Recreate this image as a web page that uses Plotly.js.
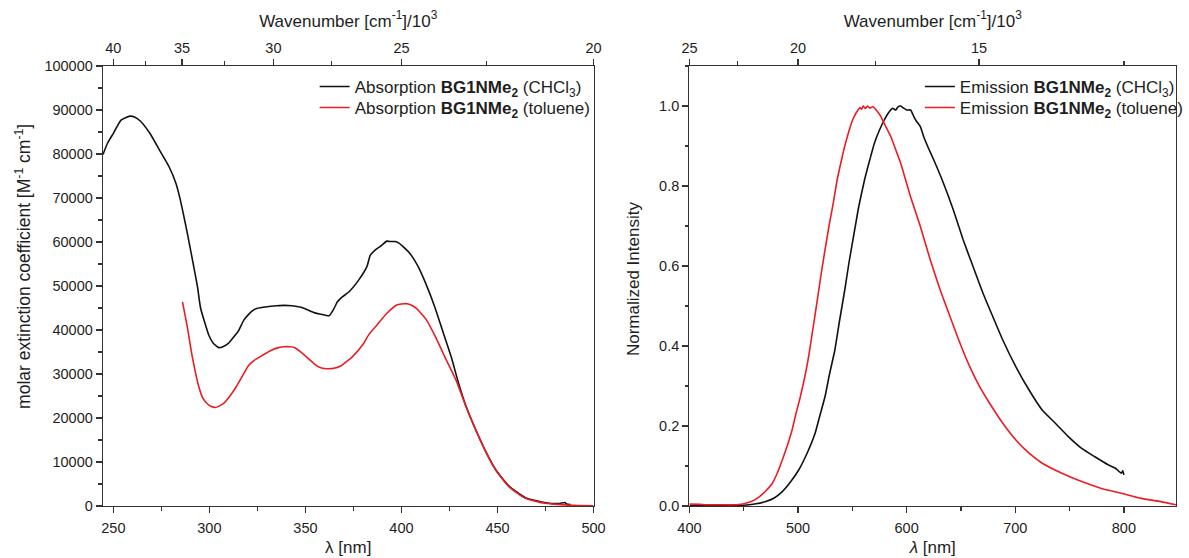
<!DOCTYPE html>
<html>
<head>
<meta charset="utf-8">
<script src="https://cdn.plot.ly/plotly-3.0.1.min.js"></script>
<style>
html,body{margin:0;padding:0;background:#fff;}
#chart{width:1189px;height:558px;}
</style>
</head>
<body>
<div id="chart"></div>
<script>
// ---- Absorption (left panel) ----
const absLambdaCHCl3 = [244.6,247,250,254,258.6,261,264,269,274,279,282.6,284.3,286,288.5,291.2,293.8,295.4,297.5,299.7,302,304.8,307,310,313,315,318,320.3,322.5,324.6,330,335,339,343,347.7,351,354.6,358,362.4,364.9,366.5,368.3,372.7,377.8,382,383.8,386.4,389,392.4,394,396.7,398.5,401,404.4,408.7,413,417.3,421.6,425.9,430,434,439,444,449,456,464.5,475,482,485,486,488];
const absCHCl3 = [79900,82500,84700,87700,88600,88400,87500,84700,80900,77100,73300,70600,67300,62000,55900,49800,45000,41800,38800,37000,36000,36200,37000,38600,39700,42300,43500,44400,44900,45300,45500,45600,45500,45150,44600,43950,43600,43250,44900,46300,47200,48700,51400,54400,57000,58200,59000,60200,60100,60100,59800,58900,57400,54400,50200,45300,39600,33900,27500,22200,17000,12300,8300,4500,1900,750,550,800,450,350];

const absLambdaToluene = [286,288.5,291.1,294.5,296.5,298.8,301,303.1,305,307.4,310,313.4,317,320.3,323,326.3,332.3,336,339.2,342,344.3,349.5,354.6,357,359.8,364.9,368.3,371,374.4,380.4,382.9,387.2,392.4,397.5,402.3,405,407.8,413,418.1,423.3,428.4,433.6,438.7,443.9,449,455.9,464.5,474.8,485,492,500];
const absToluene = [46400,40700,33900,27100,24600,23300,22600,22400,22700,23300,24600,26700,29400,31900,33000,33900,35400,36000,36200,36200,36000,34300,32300,31600,31250,31300,31800,32700,33900,37000,38900,41100,43800,45700,46000,45700,44900,42300,38100,33200,28600,22600,17300,12300,8200,4400,1750,610,250,130,70];

// ---- Emission (right panel) ----
const emLambdaCHCl3 = [400,430,450,460,470.3,478,485.5,493,500.6,508,515.7,520,524.8,529,533.9,538,543,547,552.1,556,561.2,566,570.3,575,579.4,583,587,590,592,594.5,597,600,603.6,606.7,609,612.7,615.7,620,625,633.9,643,652.1,661.2,670.3,679.4,688.5,700.6,712.7,724.8,736.9,749.1,761.2,773.3,785.5,792,797.6,799,800];
const emCHCl3 = [0.001,0.001,0.002,0.005,0.011,0.02,0.036,0.06,0.09,0.13,0.182,0.225,0.273,0.33,0.39,0.46,0.54,0.61,0.69,0.75,0.815,0.865,0.907,0.94,0.965,0.982,0.994,0.99,0.998,1.0,0.995,0.99,0.99,0.973,0.962,0.948,0.923,0.895,0.865,0.807,0.74,0.665,0.598,0.532,0.473,0.415,0.348,0.29,0.24,0.207,0.173,0.144,0.123,0.103,0.095,0.082,0.088,0.078];

const emLambdaToluene = [400,410,420,430,440,449,457,464.3,470,476.4,481,485.5,490,494.5,498,502.1,506,509.7,513.5,517.3,521,524.8,528.5,532.4,536,540,543.5,547.6,551,555.2,557,558.5,560,562,564,566,568.8,572,576.4,580,585.5,590,594.5,603.6,612.7,621.8,630.9,640,649.1,658.2,667.3,676.4,688.5,700.6,712.7,724.8,743,761.2,779.4,797.6,815.8,834,848];
const emToluene = [0.005,0.004,0.003,0.003,0.003,0.005,0.011,0.023,0.037,0.057,0.083,0.115,0.15,0.19,0.23,0.273,0.32,0.373,0.44,0.507,0.575,0.64,0.70,0.757,0.815,0.865,0.905,0.944,0.97,0.99,0.996,0.992,1.0,0.994,1.0,0.995,0.998,0.99,0.973,0.953,0.923,0.89,0.857,0.773,0.698,0.615,0.54,0.473,0.407,0.348,0.298,0.257,0.207,0.165,0.132,0.107,0.082,0.061,0.044,0.032,0.019,0.011,0.003];

// ---- Tick labels ----
const absWavenumberLabels = ['40','35','30','25','20'];
const absWavenumberMinor = [37.5,32.5,27.5,22.5];
const emWavenumberLabels = ['25','20','15'];
const emWavenumberMinor = [22.5,17.5,12.5];

// wavenumber (10^3 cm^-1) -> wavelength (nm)
const toNm = w => 10000 / Number(w);

const BLACK = '#111111';
const RED = '#ec1c24';
const AX = '#333333';
const TXT = '#1e1e1e';
const FONT = 'Liberation Sans, Arial, sans-serif';

const lineStyle = c => ({color:c, width:1.6, shape:'spline', smoothing:0.5});

const traces = [
  {x: absLambdaCHCl3, y: absCHCl3, type:'scatter', mode:'lines', xaxis:'x', yaxis:'y', legend:'legend',
   name:'Absorption <b>BG1NMe<sub>2</sub></b> (CHCl<sub>3</sub>)', line:lineStyle(BLACK)},
  {x: absLambdaToluene, y: absToluene, type:'scatter', mode:'lines', xaxis:'x', yaxis:'y', legend:'legend3',
   name:'Absorption <b>BG1NMe<sub>2</sub></b> (toluene)', line:lineStyle(RED)},
  {x: emLambdaCHCl3, y: emCHCl3, type:'scatter', mode:'lines', xaxis:'x2', yaxis:'y2', legend:'legend2',
   name:'Emission <b>BG1NMe<sub>2</sub></b> (CHCl<sub>3</sub>)', line:lineStyle(BLACK)},
  {x: emLambdaToluene, y: emToluene, type:'scatter', mode:'lines', xaxis:'x2', yaxis:'y2', legend:'legend4',
   name:'Emission <b>BG1NMe<sub>2</sub></b> (toluene)', line:lineStyle(RED)},
  {x: [], y: [], xaxis:'x3', yaxis:'y', showlegend:false, hoverinfo:'skip'},
  {x: [], y: [], xaxis:'x4', yaxis:'y2', showlegend:false, hoverinfo:'skip'}
];

const W = 1189, L = 103, R = 1, T = 66, B = 52;
const plotW = W - L - R;
const plotH = 558 - T - B;
const px2x = px => (px - L) / plotW;
const px2y = py => 1 - (py - T) / plotH;
const leftDom = [0, px2x(599)];
const rightDom = [px2x(696), 1];

const axBase = {
  showline:true, linecolor:AX, linewidth:1.3, showgrid:false, zeroline:false,
  ticks:'outside', ticklen:6, tickwidth:1.3, tickcolor:AX,
  tickfont:{size:14.5, color:TXT, family:FONT}
};
const minorBase = {ticks:'outside', ticklen:3.5, tickwidth:1.3, tickcolor:AX, showgrid:false};
const titleFont = {size:17, family:FONT, color:TXT};
const legBase = {xanchor:'left', yanchor:'top', bgcolor:'rgba(0,0,0,0)', borderwidth:0,
                 font:{size:17, family:FONT, color:TXT}, tracegroupgap:0};

const layout = {
  width: 1189, height: 558,
  margin: {l:L, r:R, t:T, b:B, pad:0},
  paper_bgcolor:'#ffffff', plot_bgcolor:'#ffffff',
  font:{family:FONT, size:14.5, color:TXT},
  showlegend:true,
  xaxis: Object.assign({}, axBase, {
    domain:leftDom, anchor:'y', range:[244.6, 500], tick0:250, dtick:50, ticklabelstandoff:2,
    minor:Object.assign({}, minorBase, {tick0:250, dtick:25}),
    title:{text:'λ [nm]', font:titleFont, standoff:6}
  }),
  yaxis: Object.assign({}, axBase, {
    domain:[0,1], anchor:'x', range:[0, 100000], tick0:0, dtick:10000, tickformat:'d', mirror:true,
    minor:Object.assign({}, minorBase, {tick0:0, dtick:5000})
  }),
  xaxis3: Object.assign({}, axBase, {
    overlaying:'x', side:'top', anchor:'y', range:[244.6, 500],
    tickmode:'array', tickvals:absWavenumberLabels.map(toNm), ticktext:absWavenumberLabels,
    minor:Object.assign({}, minorBase, {tickmode:'array', tickvals:absWavenumberMinor.map(toNm)}),
    title:{text:'Wavenumber [cm<sup>-1</sup>]/10<sup>3</sup>', font:titleFont, standoff:8}
  }),
  xaxis2: Object.assign({}, axBase, {
    domain:rightDom, anchor:'y2', range:[400, 848], tick0:400, dtick:100, ticklabelstandoff:2,
    minor:Object.assign({}, minorBase, {tick0:400, dtick:50}),
    title:{text:'<i>λ</i> [nm]', font:titleFont, standoff:6}
  }),
  yaxis2: Object.assign({}, axBase, {
    domain:[0,1], anchor:'x2', range:[0, 1.1], tick0:0, dtick:0.2, tickformat:'.1f', mirror:true,
    minor:Object.assign({}, minorBase, {tick0:0, dtick:0.1})
  }),
  xaxis4: Object.assign({}, axBase, {
    overlaying:'x2', side:'top', anchor:'y2', range:[400, 848],
    tickmode:'array', tickvals:emWavenumberLabels.map(toNm), ticktext:emWavenumberLabels,
    minor:Object.assign({}, minorBase, {tickmode:'array', tickvals:emWavenumberMinor.map(toNm)}),
    title:{text:'Wavenumber [cm<sup>-1</sup>]/10<sup>3</sup>', font:titleFont, standoff:8}
  }),
  legend:  Object.assign({}, legBase, {x:px2x(317), y:px2y(69)}),
  legend3: Object.assign({}, legBase, {x:px2x(317), y:px2y(90)}),
  legend2: Object.assign({}, legBase, {x:px2x(929), y:px2y(69)}),
  legend4: Object.assign({}, legBase, {x:px2x(929), y:px2y(90)}),
  annotations: [
    {text:'molar extinction coefficient [M<sup>-1</sup> cm<sup>-1</sup>]', textangle:-90, showarrow:false,
     xref:'paper', yref:'paper', x:px2x(22), y:px2y(266), xanchor:'center', yanchor:'middle',
     font:{size:17.5, family:FONT, color:TXT}},
    {text:'Normalized Intensity', textangle:-90, showarrow:false,
     xref:'paper', yref:'paper', x:px2x(639), y:px2y(279), xanchor:'center', yanchor:'middle',
     font:{size:17, family:FONT, color:TXT}}
  ]
};

Plotly.newPlot('chart', traces, layout, {staticPlot:true, displayModeBar:false});
</script>
</body>
</html>
